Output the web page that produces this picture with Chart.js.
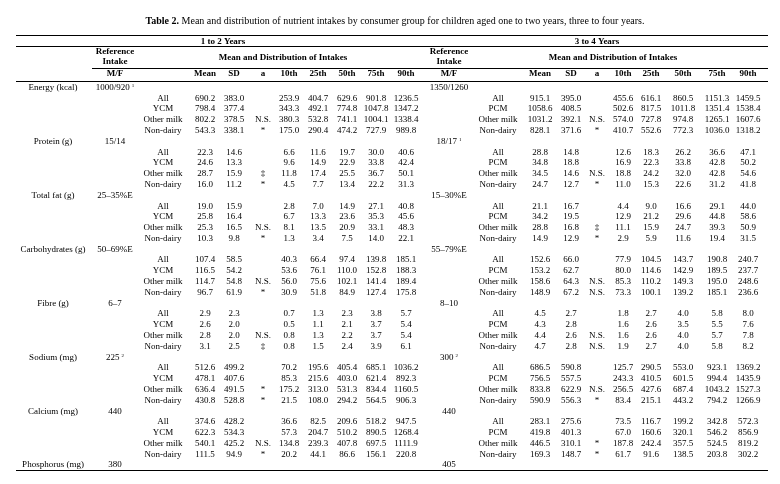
<!DOCTYPE html>
<html>
<head>
<meta charset="utf-8">
<script src="https://cdn.jsdelivr.net/npm/chart.js@4.4.1/dist/chart.umd.min.js"></script>
<style>
  body { margin: 0; background: #fff; }
  canvas { display: block; }
</style>
</head>
<body>
<canvas id="tableChart" width="780" height="484"></canvas>
<script>
// ---- data ----
const nutrients = ["Energy (kcal)", "Protein (g)", "Total fat (g)", "Carbohydrates (g)",
                   "Fibre (g)", "Sodium (mg)", "Calcium (mg)", "Phosphorus (mg)"];
const refIntake12 = ["1000/920", "15/14", "25\u201335%E", "50\u201369%E", "6\u20137", "225", "440", "380"];
const refNote12 = ["1", "", "", "", "", "2", "", ""];
const refIntake34 = ["1350/1260", "18/17", "15\u201330%E", "55\u201379%E", "8\u201310", "300", "440", "405"];
const refNote34 = ["", "1", "", "", "", "2", "", ""];
const groups12 = ["All", "YCM", "Other milk", "Non-dairy"];
const groups34 = ["All", "PCM", "Other milk", "Non-dairy"];
const statHeaders = ["Mean", "SD", "a", "10th", "25th", "50th", "75th", "90th"];

// rows: Mean, SD, a, 10th, 25th, 50th, 75th, 90th
const energy12 = [
  [690.2, 383.0, "", 253.9, 404.7, 629.6, 901.8, 1236.5],
  [798.4, 377.4, "", 343.3, 492.1, 774.8, 1047.8, 1347.2],
  [802.2, 378.5, "N.S.", 380.3, 532.8, 741.1, 1004.1, 1338.4],
  [543.3, 338.1, "*", 175.0, 290.4, 474.2, 727.9, 989.8]
];
const protein12 = [
  [22.3, 14.6, "", 6.6, 11.6, 19.7, 30.0, 40.6],
  [24.6, 13.3, "", 9.6, 14.9, 22.9, 33.8, 42.4],
  [28.7, 15.9, "\u2021", 11.8, 17.4, 25.5, 36.7, 50.1],
  [16.0, 11.2, "*", 4.5, 7.7, 13.4, 22.2, 31.3]
];
const fat12 = [
  [19.0, 15.9, "", 2.8, 7.0, 14.9, 27.1, 40.8],
  [25.8, 16.4, "", 6.7, 13.3, 23.6, 35.3, 45.6],
  [25.3, 16.5, "N.S.", 8.1, 13.5, 20.9, 33.1, 48.3],
  [10.3, 9.8, "*", 1.3, 3.4, 7.5, 14.0, 22.1]
];
const carbs12 = [
  [107.4, 58.5, "", 40.3, 66.4, 97.4, 139.8, 185.1],
  [116.5, 54.2, "", 53.6, 76.1, 110.0, 152.8, 188.3],
  [114.7, 54.8, "N.S.", 56.0, 75.6, 102.1, 141.4, 189.4],
  [96.7, 61.9, "*", 30.9, 51.8, 84.9, 127.4, 175.8]
];
const fibre12 = [
  [2.9, 2.3, "", 0.7, 1.3, 2.3, 3.8, 5.7],
  [2.6, 2.0, "", 0.5, 1.1, 2.1, 3.7, 5.4],
  [2.8, 2.0, "N.S.", 0.8, 1.3, 2.2, 3.7, 5.4],
  [3.1, 2.5, "\u2021", 0.8, 1.5, 2.4, 3.9, 6.1]
];
const sodium12 = [
  [512.6, 499.2, "", 70.2, 195.6, 405.4, 685.1, 1036.2],
  [478.1, 407.6, "", 85.3, 215.6, 403.0, 621.4, 892.3],
  [636.4, 491.5, "*", 175.2, 313.0, 531.3, 834.4, 1160.5],
  [430.8, 528.8, "*", 21.5, 108.0, 294.2, 564.5, 906.3]
];
const calcium12 = [
  [374.6, 428.2, "", 36.6, 82.5, 209.6, 518.2, 947.5],
  [622.3, 534.3, "", 57.3, 204.7, 510.2, 890.5, 1268.4],
  [540.1, 425.2, "N.S.", 134.8, 239.3, 407.8, 697.5, 1111.9],
  [111.5, 94.9, "*", 20.2, 44.1, 86.6, 156.1, 220.8]
];

const energy34 = [
  [915.1, 395.0, "", 455.6, 616.1, 860.5, 1151.3, 1459.5],
  [1058.6, 408.5, "", 502.6, 817.5, 1011.8, 1351.4, 1538.4],
  [1031.2, 392.1, "N.S.", 574.0, 727.8, 974.8, 1265.1, 1607.6],
  [828.1, 371.6, "*", 410.7, 552.6, 772.3, 1036.0, 1318.2]
];
const protein34 = [
  [28.8, 14.8, "", 12.6, 18.3, 26.2, 36.6, 47.1],
  [34.8, 18.8, "", 16.9, 22.3, 33.8, 42.8, 50.2],
  [34.5, 14.6, "N.S.", 18.8, 24.2, 32.0, 42.8, 54.6],
  [24.7, 12.7, "*", 11.0, 15.3, 22.6, 31.2, 41.8]
];
const fat34 = [
  [21.1, 16.7, "", 4.4, 9.0, 16.6, 29.1, 44.0],
  [34.2, 19.5, "", 12.9, 21.2, 29.6, 44.8, 58.6],
  [28.8, 16.8, "\u2021", 11.1, 15.9, 24.7, 39.3, 50.9],
  [14.9, 12.9, "*", 2.9, 5.9, 11.6, 19.4, 31.5]
];
const carbs34 = [
  [152.6, 66.0, "", 77.9, 104.5, 143.7, 190.8, 240.7],
  [153.2, 62.7, "", 80.0, 114.6, 142.9, 189.5, 237.7],
  [158.6, 64.3, "N.S.", 85.3, 110.2, 149.3, 195.0, 248.6],
  [148.9, 67.2, "N.S.", 73.3, 100.1, 139.2, 185.1, 236.6]
];
const fibre34 = [
  [4.5, 2.7, "", 1.8, 2.7, 4.0, 5.8, 8.0],
  [4.3, 2.8, "", 1.6, 2.6, 3.5, 5.5, 7.6],
  [4.4, 2.6, "N.S.", 1.6, 2.6, 4.0, 5.7, 7.8],
  [4.7, 2.8, "N.S.", 1.9, 2.7, 4.0, 5.8, 8.2]
];
const sodium34 = [
  [686.5, 590.8, "", 125.7, 290.5, 553.0, 923.1, 1369.2],
  [756.5, 557.5, "", 243.3, 410.5, 601.5, 994.4, 1435.9],
  [833.8, 622.9, "N.S.", 256.5, 427.6, 687.4, 1043.2, 1527.3],
  [590.9, 556.3, "*", 83.4, 215.1, 443.2, 794.2, 1266.9]
];
const calcium34 = [
  [283.1, 275.6, "", 73.5, 116.7, 199.2, 342.8, 572.3],
  [419.8, 401.3, "", 67.0, 160.6, 320.1, 546.2, 856.9],
  [446.5, 310.1, "*", 187.8, 242.4, 357.5, 524.5, 819.2],
  [169.3, 148.7, "*", 61.7, 91.6, 138.5, 203.8, 302.2]
];

const blocks12 = [energy12, protein12, fat12, carbs12, fibre12, sodium12, calcium12];
const blocks34 = [energy34, protein34, fat34, carbs34, fibre34, sodium34, calcium34];

// ---- layout (x in scale units, y in row units) ----
const left = { label: 53, ref: 115, group: 163, stats: [205, 234, 263, 289, 318, 347, 376, 406], span: 223, dist: 283 };
const right = { ref: 449, group: 498, stats: [540, 571, 597, 623, 651, 683, 717, 748], span: 597, dist: 613 };
const hdr = { title: -6.16, years: -4.23, reference: -3.29, dist: -2.73, intake: -2.36, mf: -1.25 };
const rules = [
  { y: -4.87, x0: 16, x1: 768 },
  { y: -3.85, x0: 16, x1: 768 },
  { y: -1.81, x0: 92, x1: 768 },
  { y: -0.63, x0: 16, x1: 768 },
  { y: 35.45, x0: 16, x1: 768 }
];

const FONT = "'Liberation Serif', 'Times New Roman', serif";

// ---- build cells ----
const headCells = [];
const bodyCells = [];

[left, right].forEach((side, s) => {
  headCells.push({ x: side.span, y: hdr.years, text: s === 0 ? "1 to 2 Years" : "3 to 4 Years" });
  headCells.push({ x: side.ref, y: hdr.reference, text: "Reference" });
  headCells.push({ x: side.ref, y: hdr.intake, text: "Intake" });
  headCells.push({ x: side.dist, y: hdr.dist, text: "Mean and Distribution of Intakes" });
  headCells.push({ x: side.ref, y: hdr.mf, text: "M/F" });
  statHeaders.forEach((h, j) => headCells.push({ x: side.stats[j], y: hdr.mf, text: h }));
});

nutrients.forEach((n, i) => {
  const row = i * 5;
  bodyCells.push({ x: left.label, y: row, text: n });
  bodyCells.push({ x: left.ref, y: row, text: refIntake12[i], sup: refNote12[i] });
  bodyCells.push({ x: right.ref, y: row, text: refIntake34[i], sup: refNote34[i] });
  if (i >= blocks12.length) return;
  [[left, groups12, blocks12[i]], [right, groups34, blocks34[i]]].forEach(([side, groups, block]) => {
    block.forEach((vals, g) => {
      bodyCells.push({ x: side.group, y: row + g + 1, text: groups[g] });
      vals.forEach((v, j) => {
        if (v === "") return;
        bodyCells.push({ x: side.stats[j], y: row + g + 1, text: typeof v === "number" ? v.toFixed(1) : v });
      });
    });
  });
});

// ---- plugins ----
const tableRules = {
  id: 'tableRules',
  beforeDatasetsDraw(chart) {
    const { ctx, scales } = chart;
    ctx.save();
    ctx.strokeStyle = '#000';
    ctx.lineWidth = 1;
    rules.forEach(r => {
      const y = Math.round(scales.y.getPixelForValue(r.y)) + 0.5;
      ctx.beginPath();
      ctx.moveTo(scales.x.getPixelForValue(r.x0), y);
      ctx.lineTo(scales.x.getPixelForValue(r.x1), y);
      ctx.stroke();
    });
    // title: bold "Table 2." + normal text, centred
    const tx = scales.x.getPixelForValue(395);
    const ty = scales.y.getPixelForValue(hdr.title);
    const a = "Table 2.", b = " Mean and distribution of nutrient intakes by consumer group for children aged one to two years, three to four years.";
    ctx.fillStyle = '#000';
    ctx.textBaseline = 'middle';
    ctx.font = "bold 10px " + FONT;
    const wa = ctx.measureText(a).width;
    ctx.font = "10px " + FONT;
    const wb = ctx.measureText(b).width;
    const x0 = tx - (wa + wb) / 2;
    ctx.font = "bold 10px " + FONT;
    ctx.fillText(a, x0, ty);
    ctx.font = "10px " + FONT;
    ctx.fillText(b, x0 + wa, ty);
    ctx.restore();
  }
};

const tableText = {
  id: 'tableText',
  afterDatasetsDraw(chart) {
    const ctx = chart.ctx;
    chart.data.datasets.forEach((ds, di) => {
      const meta = chart.getDatasetMeta(di);
      ctx.save();
      ctx.fillStyle = '#000';
      ctx.textBaseline = 'middle';
      ctx.textAlign = 'left';
      meta.data.forEach((pt, i) => {
        const cell = ds.data[i];
        ctx.font = ds.textFont;
        const w = ctx.measureText(cell.text).width;
        let sw = 0;
        if (cell.sup) {
          ctx.font = "5px " + FONT;
          sw = ctx.measureText(cell.sup).width + 2;
        }
        const x0 = pt.x - (w + sw) / 2;
        ctx.font = ds.textFont;
        ctx.fillText(cell.text, x0, pt.y);
        if (cell.sup) {
          ctx.font = "5px " + FONT;
          ctx.fillText(cell.sup, x0 + w + 2, pt.y - 2);
        }
      });
      ctx.restore();
    });
  }
};

new Chart(document.getElementById('tableChart'), {
  type: 'scatter',
  data: {
    datasets: [
      { label: 'header', data: headCells, textFont: "bold 9px " + FONT, pointRadius: 0 },
      { label: 'body', data: bodyCells, textFont: "9px " + FONT, pointRadius: 0 }
    ]
  },
  options: {
    responsive: false,
    animation: false,
    events: [],
    devicePixelRatio: 1,
    layout: { padding: 0 },
    plugins: { legend: { display: false }, tooltip: { enabled: false } },
    scales: {
      x: { type: 'linear', display: false, min: 0, max: 780 },
      y: { type: 'linear', display: false, min: -8.11, max: 36.75, reverse: true }
    }
  },
  plugins: [tableRules, tableText]
});
</script>
</body>
</html>
